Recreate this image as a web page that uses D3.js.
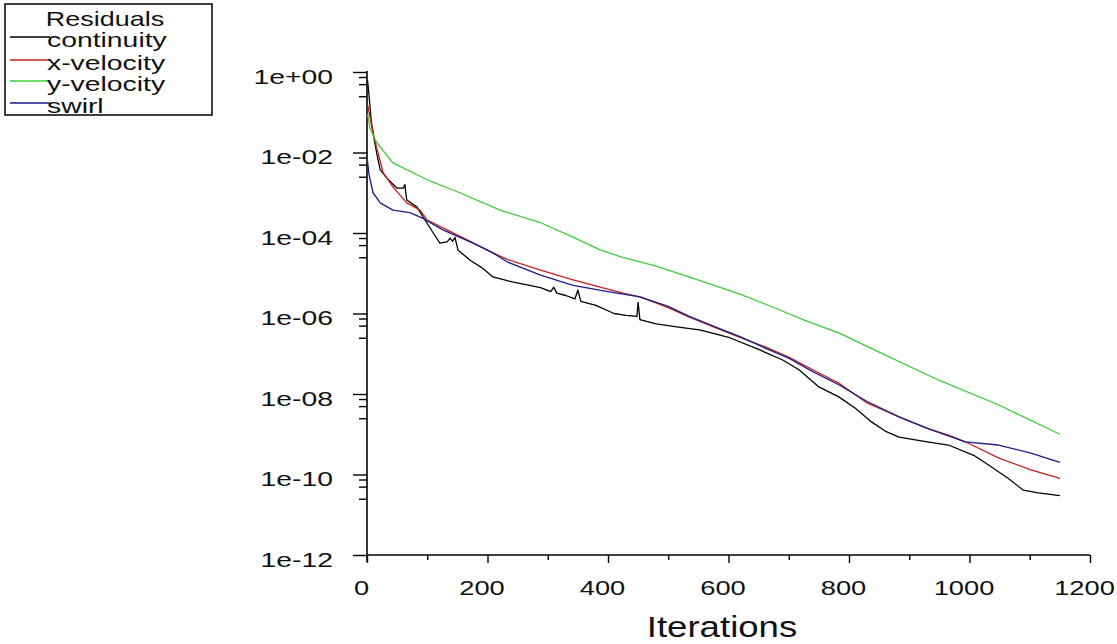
<!DOCTYPE html>
<html>
<head>
<meta charset="utf-8">
<script src="https://cdn.jsdelivr.net/npm/d3@7"></script>
<style>
  body { margin: 0; background: #fff; }
  text { font-family: "Liberation Sans", Arial, sans-serif; fill: #111; }
</style>
</head>
<body>
<svg id="residuals" width="1117" height="644"></svg>
<script>
// residual histories, [iteration, residual]
const continuity = [
  [1, 6e-1], [3, 3e-1], [7, 6e-2], [13, 1.7e-2], [18, 7e-3], [22, 3.7e-3], [33, 2.3e-3],
  [50, 1.3e-3], [60, 1.3e-3], [63, 1.6e-3], [64, 1.1e-3], [66, 6.6e-4], [83, 4.4e-4],
  [93, 2.5e-4], [110, 1.0e-4], [121, 5.6e-5], [133, 6e-5], [138, 7.5e-5], [142, 6.2e-5],
  [146, 7.8e-5], [151, 3.8e-5], [171, 2.1e-5], [190, 1.4e-5], [209, 8.1e-6], [225, 7e-6],
  [243, 6e-6], [270, 5e-6], [288, 4.4e-6], [305, 3.5e-6], [310, 4.5e-6], [315, 3.2e-6],
  [330, 2.8e-6], [345, 2.3e-6], [350, 3.8e-6], [355, 2.0e-6], [380, 1.6e-6], [410, 1.0e-6],
  [430, 9e-7], [448, 8.5e-7], [450, 1.9e-6], [453, 7e-7], [480, 5.5e-7], [520, 4.5e-7],
  [552, 3.9e-7], [602, 2.5e-7], [651, 1.26e-7], [690, 7e-8], [717, 4e-8], [750, 1.5e-8],
  [783, 8.5e-9], [810, 4.5e-9], [838, 2e-9], [860, 1.2e-9], [883, 8.5e-10], [930, 6.5e-10],
  [965, 5.4e-10], [1007, 3e-10], [1031, 1.74e-10], [1064, 8.1e-11], [1089, 4.1e-11],
  [1114, 3.5e-11], [1150, 3.0e-11]
];

const xVelocity = [
  [1, 1.5e-1], [5, 7.6e-2], [10, 3e-2], [17, 1.15e-2], [27, 3.1e-3], [43, 1.4e-3],
  [66, 5.6e-4], [88, 3.7e-4], [100, 2.1e-4], [133, 1.2e-4], [177, 5.6e-5], [209, 3.2e-5],
  [233, 2.2e-5], [288, 1.2e-5], [342, 6.8e-6], [387, 4.5e-6], [425, 3.2e-6], [453, 2.6e-6],
  [500, 1.4e-6], [535, 8.1e-7], [580, 4.3e-7], [618, 2.6e-7], [660, 1.5e-7], [700, 8.3e-8],
  [740, 4e-8], [783, 1.86e-8], [830, 6e-9], [883, 2.7e-9], [930, 1.4e-9], [965, 9.5e-10],
  [993, 6.5e-10], [1048, 2.6e-10], [1102, 1.3e-10], [1150, 8e-11]
];

const yVelocity = [
  [1, 9e-2], [5, 4e-2], [11, 2.5e-2], [17, 1.7e-2], [43, 5.5e-3], [100, 2.1e-3],
  [154, 1.0e-3], [221, 3.7e-4], [288, 1.8e-4], [342, 7.9e-5], [387, 3.8e-5], [420, 2.6e-5],
  [480, 1.5e-5], [564, 5.8e-6], [620, 3e-6], [673, 1.45e-6], [730, 6.5e-7], [783, 3.3e-7],
  [850, 1.1e-7], [949, 2.2e-8], [1048, 5.4e-9], [1150, 1.0e-9]
];

const swirl = [
  [1, 6e-3], [3, 3e-3], [10, 1e-3], [22, 5.6e-4], [43, 3.7e-4], [71, 3.2e-4], [93, 2.3e-4],
  [126, 1.2e-4], [177, 5.5e-5], [209, 3.2e-5], [233, 1.9e-5], [288, 9e-6], [342, 5e-6],
  [400, 3.5e-6], [453, 2.6e-6], [500, 1.5e-6], [535, 8.5e-7], [580, 4.5e-7], [618, 2.7e-7],
  [660, 1.4e-7], [700, 7.8e-8], [740, 3.6e-8], [783, 1.7e-8], [830, 6.5e-9], [883, 2.7e-9],
  [930, 1.4e-9], [993, 6.5e-10], [1048, 5.4e-10], [1102, 3.4e-10], [1150, 2.0e-10]
];

const seriesNames = ['continuity', 'x-velocity', 'y-velocity', 'swirl'];
const seriesColors = ['#000000', '#c8201e', '#3ccc3c', '#1c1c8a'];

const xTickValues = [0, 200, 400, 600, 800, 1000, 1200];
const xMinorValues = [100, 300, 500, 700, 900, 1100];
const yTickValues = [1, 1e-2, 1e-4, 1e-6, 1e-8, 1e-10, 1e-12];
const yTickLabels = ['1e+00', '1e-02', '1e-04', '1e-06', '1e-08', '1e-10', '1e-12'];

const svg = d3.select('#residuals');
const sx = 1.35; // wide x11 style lettering

const x = d3.scaleLinear().domain([0, 1200]).range([367, 1090]);
const y = d3.scaleLog().domain([1e-12, 1]).range([555, 72]);

// y minor ticks: 0.75, 0.5, 0.25 of every labelled decade (except bottom)
const yMinorValues = [];
yTickValues.slice(0, -1).forEach(v => [0.75, 0.5, 0.25].forEach(f => yMinorValues.push(v * f)));

// axes
const xAxis = svg.append('g').attr('transform', `translate(0,${y(1e-12)})`)
    .call(d3.axisBottom(x).tickValues(xTickValues).tickSize(8).tickSizeOuter(0).tickFormat(d3.format('d')));
xAxis.select('.domain').remove();
xAxis.selectAll('.tick text')
    .attr('x', -6 / 1.3)
    .attr('y', 40).attr('dy', null)
    .attr('transform', 'scale(1.3,1)')
    .style('font-size', '21px');

const xMinor = svg.append('g').attr('transform', `translate(0,${y(1e-12)})`)
    .call(d3.axisBottom(x).tickValues(xMinorValues).tickSize(5).tickSizeOuter(0).tickFormat(''));
xMinor.select('.domain').remove();

const yAxis = svg.append('g').attr('transform', `translate(${x(0)},0)`)
    .call(d3.axisLeft(y).tickValues(yTickValues).tickSize(14).tickSizeOuter(0)
        .tickFormat((d, i) => yTickLabels[i]));
yAxis.select('.domain').remove();
yAxis.selectAll('.tick text')
    .attr('x', -34 / sx).attr('dy', null).attr('y', 11)
    .attr('transform', `scale(${sx},1)`)
    .style('font-size', '21px');

const yMinor = svg.append('g').attr('transform', `translate(${x(0)},0)`)
    .call(d3.axisLeft(y).tickValues(yMinorValues).tickSize(8).tickSizeOuter(0).tickFormat(''));
yMinor.select('.domain').remove();

svg.selectAll('.tick line').attr('stroke', '#000').attr('stroke-width', 1.4);

svg.append('line')
    .attr('x1', x(0)).attr('x2', x(1200))
    .attr('y1', y(1e-12)).attr('y2', y(1e-12))
    .attr('stroke', '#000').attr('stroke-width', 1.4);
svg.append('line')
    .attr('x1', x(0)).attr('x2', x(0))
    .attr('y1', y(1) - 1).attr('y2', y(1e-12) + 7)
    .attr('stroke', '#000').attr('stroke-width', 1.6);

svg.append('text')
    .attr('transform', 'translate(722,637) scale(1.22,1)')
    .attr('text-anchor', 'middle')
    .style('font-size', '30px')
    .text('Iterations');

// residual lines
const line = d3.line().x(d => x(d[0])).y(d => y(d[1]));
[continuity, xVelocity, yVelocity, swirl].forEach((s, i) => {
    svg.append('path')
        .datum(s)
        .attr('d', line)
        .attr('fill', 'none')
        .attr('stroke', seriesColors[i])
        .attr('stroke-width', 1.3)
        .attr('stroke-linejoin', 'round');
});

// legend
svg.append('clipPath').attr('id', 'legclip')
    .append('rect').attr('x', 5).attr('y', 4).attr('width', 207).attr('height', 111);

const legend = svg.append('g').attr('clip-path', 'url(#legclip)');
legend.append('text')
    .attr('transform', `translate(105,26) scale(${sx},1)`)
    .attr('text-anchor', 'middle')
    .style('font-size', '20px')
    .text('Residuals');

const legLineY = [37, 60, 81, 103];
const legTextY = [47, 70, 91, 113];
seriesNames.forEach((name, i) => {
    legend.append('line')
        .attr('x1', 10).attr('x2', 50)
        .attr('y1', legLineY[i]).attr('y2', legLineY[i])
        .attr('stroke', seriesColors[i]).attr('stroke-width', 1.4);
    legend.append('text')
        .attr('transform', `translate(47,${legTextY[i]}) scale(${sx},1)`)
        .style('font-size', '21px')
        .text(name);
});

svg.append('rect')
    .attr('x', 5).attr('y', 4).attr('width', 207).attr('height', 111)
    .attr('fill', 'none').attr('stroke', '#000').attr('stroke-width', 1.5);
</script>
</body>
</html>
